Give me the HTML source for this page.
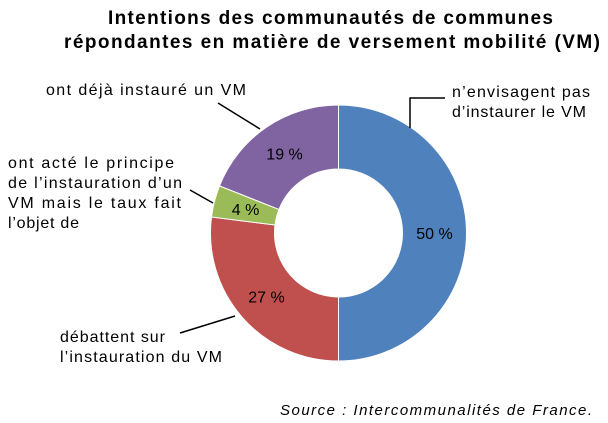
<!DOCTYPE html>
<html><head><meta charset="utf-8"><style>
body{margin:0;background:#fff;}
svg{display:block;font-family:"Liberation Sans",Arial,sans-serif;}
</style></head><body>
<svg width="608" height="423" viewBox="0 0 608 423">
<text x="108" y="24" textLength="445" lengthAdjust="spacing" font-size="19" font-weight="bold">Intentions des communautés de communes</text>
<text x="64" y="48" textLength="536" lengthAdjust="spacing" font-size="19" font-weight="bold">répondantes en matière de versement mobilité (VM)</text>
<g id="slices"></g>
<g id="vals" font-size="16"></g>
<g stroke="#000" stroke-width="1.5" fill="none">
<polyline points="410,128 410,98 445,98"/>
<line x1="260" y1="129" x2="218" y2="103"/>
<line x1="213" y1="203" x2="190" y2="190"/>
<line x1="235" y1="316" x2="180" y2="333"/>
</g>
<g font-size="16">
<text x="452" y="97" textLength="138" lengthAdjust="spacing">n’envisagent pas</text>
<text x="452" y="117" textLength="134" lengthAdjust="spacing">d’instaurer le VM</text>
<text x="46" y="95" textLength="200" lengthAdjust="spacing">ont déjà instauré un VM</text>
<text x="8" y="168" textLength="166" lengthAdjust="spacing">ont acté le principe</text>
<text x="8" y="188" textLength="174" lengthAdjust="spacing">de l’instauration d’un</text>
<text x="8" y="208" textLength="173" lengthAdjust="spacing">VM mais le taux fait</text>
<text x="8" y="228" textLength="71" lengthAdjust="spacing">l’objet de</text>
<text x="60" y="342" textLength="105" lengthAdjust="spacing">débattent sur</text>
<text x="60" y="362" textLength="162" lengthAdjust="spacing">l’instauration du VM</text>
</g>
<text x="280" y="415" textLength="312" lengthAdjust="spacing" font-size="15" font-style="italic">Source : Intercommunalités de France.</text>
</svg>
<script>
const categories=["n'envisagent pas","débattent sur","ont acté le principe","ont déjà instauré"];
const values=[50,27,4,19];
const valueLabels=["50 %","27 %","4  %","19 %"];
const colors=["#4f81bd","#c0504d","#9bbb59","#8064a2"];
const cx=338.5,cy=233,R=128,r=64;
const ns="http://www.w3.org/2000/svg";
const g=document.getElementById('slices'),gv=document.getElementById('vals');
const total=values.reduce((a,b)=>a+b,0);
let a0=0;
function pt(rad,a){return [cx+rad*Math.sin(a),cy-rad*Math.cos(a)];}
values.forEach((v,i)=>{
 const a1=a0+v/total*2*Math.PI;
 const large=(a1-a0)>Math.PI?1:0;
 const [x0,y0]=pt(R,a0),[x1,y1]=pt(R,a1),[x2,y2]=pt(r,a1),[x3,y3]=pt(r,a0);
 const p=document.createElementNS(ns,'path');
 p.setAttribute('d',`M${x0},${y0}A${R},${R} 0 ${large} 1 ${x1},${y1}L${x2},${y2}A${r},${r} 0 ${large} 0 ${x3},${y3}Z`);
 p.setAttribute('fill',colors[i]);
 p.setAttribute('stroke','#fff');p.setAttribute('stroke-width','1');
 
 
 g.appendChild(p);
 const am=(a0+a1)/2;const [lx,ly]=pt((R+r)/2,am);
 const t=document.createElementNS(ns,'text');
 t.setAttribute('x',lx);t.setAttribute('y',ly+6);t.setAttribute('text-anchor','middle');
 t.textContent=valueLabels[i];
 
 
 gv.appendChild(t);
 a0=a1;
});
</script>
</body></html>
